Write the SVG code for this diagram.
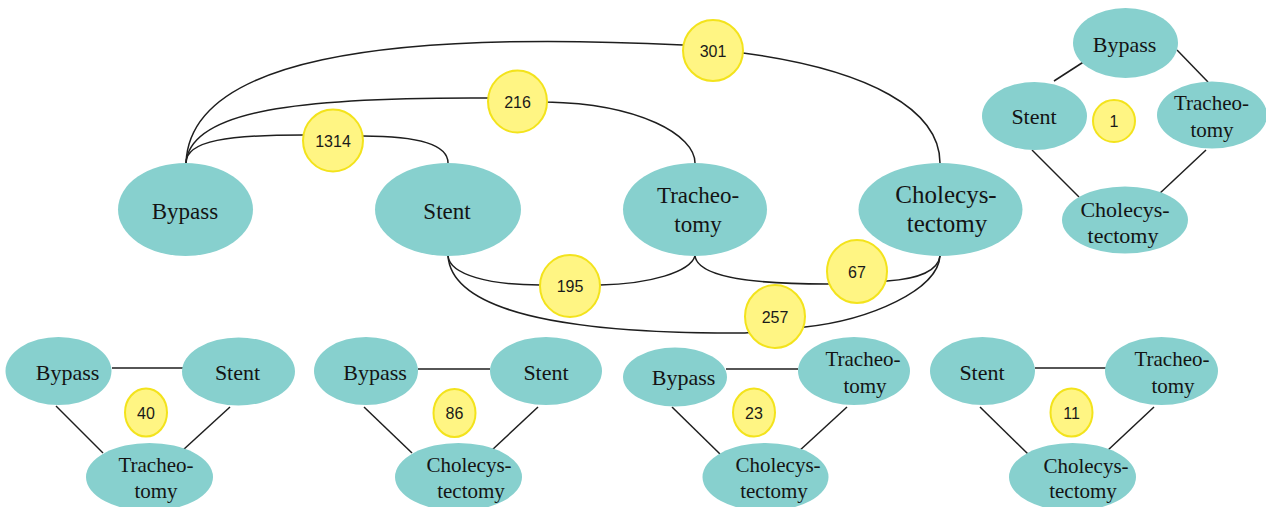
<svg xmlns="http://www.w3.org/2000/svg" width="1266" height="507" viewBox="0 0 1266 507">
<style>
.n{fill:#87d0ce}
.t{font-family:"Liberation Serif",serif;fill:#141414;text-anchor:middle}
.L{font-size:23px}
.C{font-size:25px}
.s{font-size:22px}
.s2{font-size:21px}
.e{fill:none;stroke:#1e1e1e;stroke-width:1.5}
.lb{fill:#fff583;stroke:#f3e31c;stroke-width:2}
.lt{font-family:"Liberation Sans",Arial,sans-serif;font-size:16px;fill:#1a1a1a;text-anchor:middle}
</style>
<rect width="1266" height="507" fill="#ffffff"/>
<g id="connectors">
<path class="e" d="M186,163 C186,140 230,135 303,135 L363,136 C420,136 448,145 448,163"/>
<path class="e" d="M186,163 C190,110 300,97 488,98 L547,102 C640,104 695,135 695,163"/>
<path class="e" d="M186,163 C190,60 380,30 683,45 L743,53 C870,70 940,110 940,163"/>
<path class="e" d="M448,256 C450,275 490,285 540,285 L600,285 C650,284 690,272 695,256"/>
<path class="e" d="M448,256 C452,310 560,334 745,333 L805,327 C870,320 938,290 940,256"/>
<path class="e" d="M695,256 C698,275 740,284 827,284 L887,281 C920,279 938,270 940,256"/>
<line class="e" x1="1085" y1="61" x2="1054" y2="81"/>
<line class="e" x1="1177" y1="50" x2="1208" y2="82"/>
<line class="e" x1="1032" y1="150" x2="1079" y2="197"/>
<line class="e" x1="1206" y1="150" x2="1158" y2="195"/>
<line class="e" x1="112" y1="368" x2="183" y2="368"/>
<line class="e" x1="56" y1="406" x2="103" y2="453"/>
<line class="e" x1="230" y1="407" x2="183" y2="450"/>
<line class="e" x1="418" y1="369" x2="490" y2="369"/>
<line class="e" x1="364" y1="407" x2="412" y2="453"/>
<line class="e" x1="538" y1="407" x2="492" y2="450"/>
<line class="e" x1="726" y1="369" x2="798" y2="369"/>
<line class="e" x1="672" y1="407" x2="720" y2="454"/>
<line class="e" x1="847" y1="407" x2="798" y2="452"/>
<line class="e" x1="1035" y1="368" x2="1106" y2="368"/>
<line class="e" x1="980" y1="407" x2="1028" y2="454"/>
<line class="e" x1="1154" y1="407" x2="1107" y2="451"/>
</g>
<g id="main-bypass"><ellipse class="n" cx="185.5" cy="209.5" rx="67.5" ry="46.5"/><text class="t L" x="185" y="219">Bypass</text></g>
<g id="main-stent"><ellipse class="n" cx="448" cy="209.5" rx="73" ry="46.5"/><text class="t L" x="447" y="219">Stent</text></g>
<g id="main-tracheotomy"><ellipse class="n" cx="695" cy="209.5" rx="72" ry="46.5"/><text class="t L" x="698" y="203">Tracheo-</text><text class="t L" x="698" y="232">tomy</text></g>
<g id="main-cholecystectomy"><ellipse class="n" cx="940.5" cy="209.5" rx="82" ry="46.5"/><text class="t C" x="946" y="203">Cholecys-</text><text class="t C" x="947" y="232">tectomy</text></g>
<g id="label-1314"><ellipse class="lb" cx="333" cy="140.5" rx="30" ry="31"/><text class="lt" x="333" y="146.5">1314</text></g>
<g id="label-216"><ellipse class="lb" cx="517.5" cy="101.5" rx="29.5" ry="31"/><text class="lt" x="517.5" y="107.5">216</text></g>
<g id="label-301"><ellipse class="lb" cx="713" cy="50.5" rx="30" ry="30.5"/><text class="lt" x="713" y="56.5">301</text></g>
<g id="label-195"><ellipse class="lb" cx="570" cy="286" rx="30" ry="31"/><text class="lt" x="570" y="292">195</text></g>
<g id="label-67"><ellipse class="lb" cx="857" cy="271.5" rx="30" ry="31.5"/><text class="lt" x="857" y="277.5">67</text></g>
<g id="label-257"><ellipse class="lb" cx="775" cy="316.5" rx="30" ry="31.5"/><text class="lt" x="775" y="322.5">257</text></g>
<g id="tr-bypass"><ellipse class="n" cx="1125.5" cy="43" rx="52.5" ry="35"/><text class="t s" x="1124.5" y="52">Bypass</text></g>
<g id="tr-stent"><ellipse class="n" cx="1034.5" cy="116" rx="52.5" ry="34"/><text class="t s" x="1034" y="124">Stent</text></g>
<g id="tr-tracheotomy"><ellipse class="n" cx="1212" cy="115" rx="55" ry="33.5"/><text class="t s2" x="1211.5" y="110">Tracheo-</text><text class="t s2" x="1212" y="137">tomy</text></g>
<g id="tr-cholecystectomy"><ellipse class="n" cx="1125" cy="220" rx="63" ry="33.5"/><text class="t s" x="1125" y="217">Cholecys-</text><text class="t s" x="1123" y="243">tectomy</text></g>
<g id="label-1"><ellipse class="lb" cx="1114" cy="121" rx="21" ry="21"/><text class="lt" x="1114" y="127">1</text></g>
<g id="b1-bypass"><ellipse class="n" cx="58.5" cy="371" rx="53" ry="34"/><text class="t s" x="67.5" y="380">Bypass</text></g>
<g id="b1-stent"><ellipse class="n" cx="238.5" cy="371.5" rx="56.5" ry="34"/><text class="t s" x="237.5" y="380">Stent</text></g>
<g id="b1-tracheotomy"><ellipse class="n" cx="149.5" cy="477" rx="63.5" ry="34"/><text class="t s2" x="156" y="472">Tracheo-</text><text class="t s2" x="156" y="498">tomy</text></g>
<g id="label-40"><ellipse class="lb" cx="146" cy="412.5" rx="21" ry="24"/><text class="lt" x="146" y="418.5">40</text></g>
<g id="b2-bypass"><ellipse class="n" cx="366" cy="371" rx="52" ry="34"/><text class="t s" x="375" y="380">Bypass</text></g>
<g id="b2-stent"><ellipse class="n" cx="546" cy="371" rx="56" ry="34"/><text class="t s" x="546" y="380">Stent</text></g>
<g id="b2-cholecystectomy"><ellipse class="n" cx="458.5" cy="477" rx="63.5" ry="34"/><text class="t s2" x="469" y="472">Cholecys-</text><text class="t s2" x="471" y="498">tectomy</text></g>
<g id="label-86"><ellipse class="lb" cx="454.5" cy="413" rx="21" ry="24"/><text class="lt" x="454.5" y="419">86</text></g>
<g id="b3-bypass"><ellipse class="n" cx="675" cy="377" rx="52" ry="29.5"/><text class="t s" x="683.5" y="385">Bypass</text></g>
<g id="b3-tracheotomy"><ellipse class="n" cx="854" cy="371" rx="56" ry="34"/><text class="t s2" x="863" y="366">Tracheo-</text><text class="t s2" x="865" y="393">tomy</text></g>
<g id="b3-cholecystectomy"><ellipse class="n" cx="765.5" cy="477" rx="63" ry="34"/><text class="t s2" x="778" y="472">Cholecys-</text><text class="t s2" x="774" y="498">tectomy</text></g>
<g id="label-23"><ellipse class="lb" cx="754" cy="412.5" rx="21" ry="24"/><text class="lt" x="754" y="418.5">23</text></g>
<g id="b4-stent"><ellipse class="n" cx="982.5" cy="371" rx="52.5" ry="34"/><text class="t s" x="982" y="380">Stent</text></g>
<g id="b4-tracheotomy"><ellipse class="n" cx="1161.5" cy="371" rx="56.5" ry="34"/><text class="t s2" x="1172" y="366">Tracheo-</text><text class="t s2" x="1173" y="393">tomy</text></g>
<g id="b4-cholecystectomy"><ellipse class="n" cx="1072.5" cy="477" rx="63.5" ry="34"/><text class="t s2" x="1086" y="473">Cholecys-</text><text class="t s2" x="1083" y="498">tectomy</text></g>
<g id="label-11"><ellipse class="lb" cx="1071.5" cy="412.5" rx="21" ry="24"/><text class="lt" x="1071.5" y="418.5">11</text></g>
</svg>
